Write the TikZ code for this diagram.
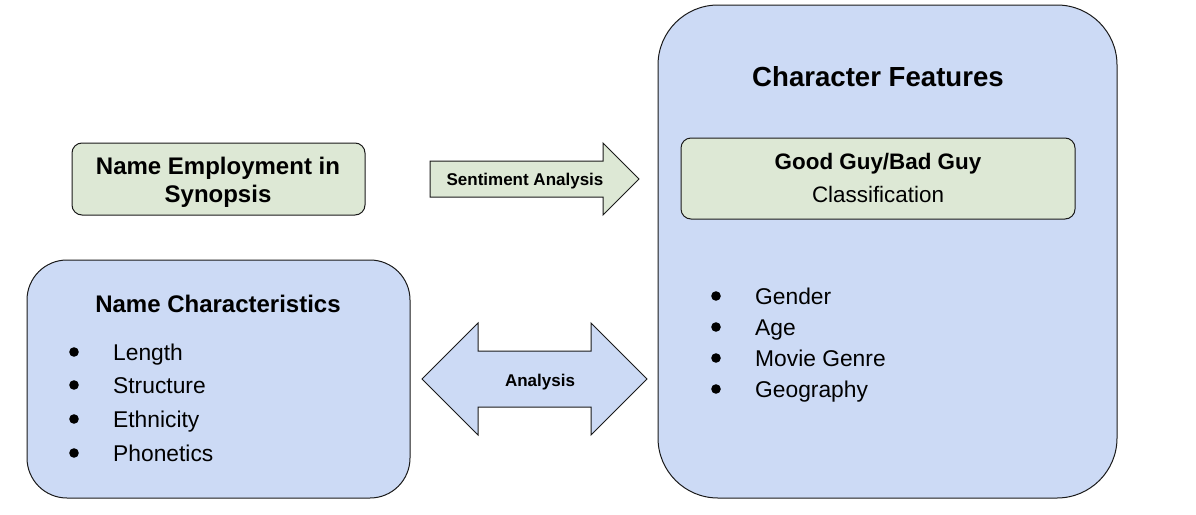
\documentclass[tikz,border=0pt]{standalone}
\usepackage{fontspec}
\setmainfont{Liberation Sans}
\usetikzlibrary{calc}
\definecolor{greenfill}{HTML}{DDE8D5}
\definecolor{bluefill}{HTML}{CCDAF5}
\definecolor{edge}{HTML}{1A1A1A}
\tikzset{
  box/.style={draw=edge, line width=1pt},
  itemtext/.style={anchor=base west, inner sep=0pt, font=\fontsize{22.8}{26}\selectfont},
  bul/.style={fill=black},
}
\begin{document}
\begin{tikzpicture}[x=1pt,y=-1pt]
\useasboundingbox (0,0) rectangle (1196,514);
% Character Features container
\draw[box, fill=bluefill, rounded corners=60pt] (658,5) rectangle (1117,498);
\node[font=\fontsize{27.6}{32}\bfseries] (cf) at (878,77) {Character Features};
% Good guy box
\draw[box, fill=greenfill, rounded corners=10pt] (681,138) rectangle (1075,219);
\node[font=\fontsize{22.4}{26}\bfseries] (gg) at (878,164) {Good Guy/Bad Guy};
\node[font=\fontsize{22.4}{26}\selectfont] (cl) at (878,194) {Classification};
% right bullets
\foreach \y/\t in {296/Gender,327/Age,358/Movie Genre,389/Geography}{
  \fill[bul] (716,\y) circle (4.8pt);
  \node[itemtext] at (755,\y+8) {\t};
}
% Name employment box
\draw[box, fill=greenfill, rounded corners=10pt] (72,143) rectangle (365,215);
\node[font=\fontsize{24}{28}\bfseries] (ne1) at (218,168) {Name Employment in};
\node[font=\fontsize{24}{28}\bfseries] (ne2) at (218,196) {Synopsis};
% Name characteristics box
\draw[box, fill=bluefill, rounded corners=40pt] (27,260) rectangle (410,498);
\node[font=\fontsize{24}{28}\bfseries] (nc) at (218,304) {Name Characteristics};
\foreach \y/\t in {352/Length,385/Structure,419/Ethnicity,453/Phonetics}{
  \fill[bul] (74,\y) circle (4.8pt);
  \node[itemtext] at (113,\y+8) {\t};
}
% Sentiment arrow
\draw[box, fill=greenfill, line join=miter]
  (430,161) -- (603,161) -- (603,143) -- (639,179) -- (603,215) -- (603,197) -- (430,197) -- cycle;
\node[font=\fontsize{17}{20}\bfseries] (sa) at (525,181) {Sentiment Analysis};
% Double arrow
\draw[box, fill=bluefill, line join=miter]
  (422,379) -- (478,323) -- (478,351) -- (591,351) -- (591,323) -- (647,379)
  -- (591,435) -- (591,407) -- (478,407) -- (478,435) -- cycle;
\node[font=\fontsize{17}{20}\bfseries] (an) at (540,382) {Analysis};
\end{tikzpicture}
\end{document}
